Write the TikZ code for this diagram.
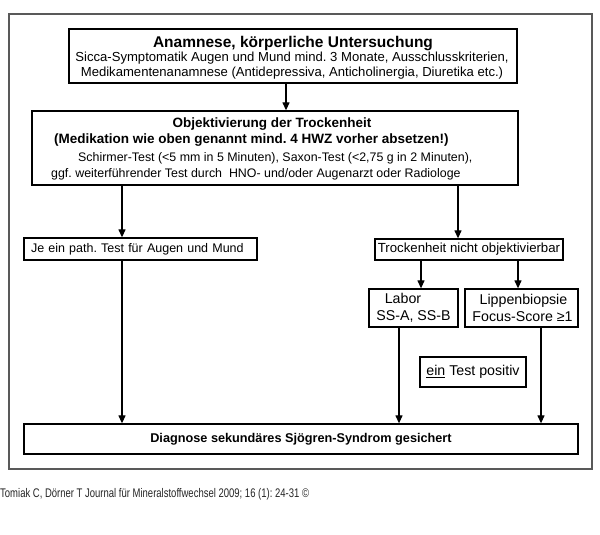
\documentclass[tikz,border=0pt]{standalone}
\usepackage{fontspec}
\setmainfont{Liberation Sans}
\newfontfamily\footfont[FakeStretch=0.76]{Liberation Sans}
\usetikzlibrary{arrows.meta}
\frenchspacing
\begin{document}
\begin{tikzpicture}[x=1pt,y=-1pt,
  box/.style={draw=black, line width=1.3pt, inner sep=0pt, anchor=center, font=\fontsize{12.5}{15}\selectfont},
  bigbox/.style={box, font=\fontsize{14.2}{17}\selectfont},
  arr/.style={line width=1.2pt, -{Triangle[length=8pt,width=7pt]}},
  txt/.style={inner sep=0pt, anchor=base west, font=\fontsize{12.4}{15}\selectfont},
  btxt/.style={inner sep=0pt, anchor=base, font=\fontsize{13.5}{15}\selectfont\bfseries}]
\useasboundingbox[fill=white] (0,0) rectangle (600,535);
\draw[line width=1.5pt, draw=black!65] (9,14) rectangle (592,469);

% top box
\node[box, minimum width=448, minimum height=54] (anam) at (293,56) {};
\node[btxt, font=\fontsize{15.5}{17}\selectfont\bfseries] (anam1) at (293,48) {Anamnese, körperliche Untersuchung};
\node[txt, anchor=base, font=\fontsize{13.1}{15}\selectfont] (anam2) at (292,62) {Sicca-Symptomatik Augen und Mund mind. 3 Monate, Ausschlusskriterien,};
\node[txt, anchor=base, font=\fontsize{13.1}{15}\selectfont] (anam3) at (292,77) {Medikamentenanamnese (Antidepressiva, Anticholinergia, Diuretika etc.)};

% second box
\node[box, minimum width=486, minimum height=74] (obj) at (275,148) {};
\node[btxt] (obj1) at (272,127) {Objektivierung der Trockenheit};
\node[btxt, anchor=base west] (obj2) at (54,143) {(Medikation wie oben genannt mind. 4 HWZ vorher absetzen!)};
\node[txt] (obj3) at (78,161) {Schirmer-Test (<5 mm in 5 Minuten), Saxon-Test (<2,75 g in 2 Minuten),};
\node[txt] (obj4) at (51,177) {ggf. weiterführender Test durch \ HNO- und/oder Augenarzt oder Radiologe};

% level 3
\node[box, minimum width=233, minimum height=22, text width=219, align=left, inner xsep=7pt] (je) at (140.5,249) {Je ein path. Test für Augen und Mund};
\node[box, minimum width=188, minimum height=21, font=\fontsize{13.2}{15}\selectfont] (trock) at (469,249.5) {Trockenheit nicht objektivierbar};

% level 4
\node[bigbox, minimum width=89, minimum height=38, align=center] (labor) at (413.5,308) {Labor\hspace*{21pt}\\SS-A, SS-B};
\node[bigbox, minimum width=113, minimum height=38, align=center] (lippen) at (521.5,308) {\hspace*{4pt}Lippenbiopsie\\\hspace*{2pt}Focus-Score ≥1};
\node[bigbox, minimum width=106, minimum height=30] (pos) at (473,372) {\underline{ein} Test positiv};

% diagnosis
\node[box, minimum width=554, minimum height=30, font=\fontsize{12.7}{15}\selectfont\bfseries] (diag) at (301,439) {Diagnose sekundäres Sjögren-Syndrom gesichert};

% footer
\node[inner sep=0pt, anchor=base west, text=black!85, font=\footfont\fontsize{12.5}{14}\selectfont] (foot) at (0,497) {Tomiak C, Dörner T Journal für Mineralstoffwechsel 2009; 16 (1): 24-31 ©};

% connector x positions
\coordinate (xa) at (286,0);
\coordinate (xl) at (122,0);
\coordinate (xr) at (458,0);
\coordinate (xt1) at (421,0);
\coordinate (xt2) at (518,0);
\coordinate (xd1) at (399,0);
\coordinate (xd2) at (541,0);

\draw[arr] (anam.south -| xa) -- (obj.north -| xa);
\draw[arr] (obj.south -| xl) -- (je.north -| xl);
\draw[arr] (obj.south -| xr) -- (trock.north -| xr);
\draw[arr] (trock.south -| xt1) -- (labor.north -| xt1);
\draw[arr] (trock.south -| xt2) -- (lippen.north -| xt2);
\draw[arr] (je.south -| xl) -- (diag.north -| xl);
\draw[arr] (labor.south -| xd1) -- (diag.north -| xd1);
\draw[arr] (lippen.south -| xd2) -- (diag.north -| xd2);
\end{tikzpicture}
\end{document}
